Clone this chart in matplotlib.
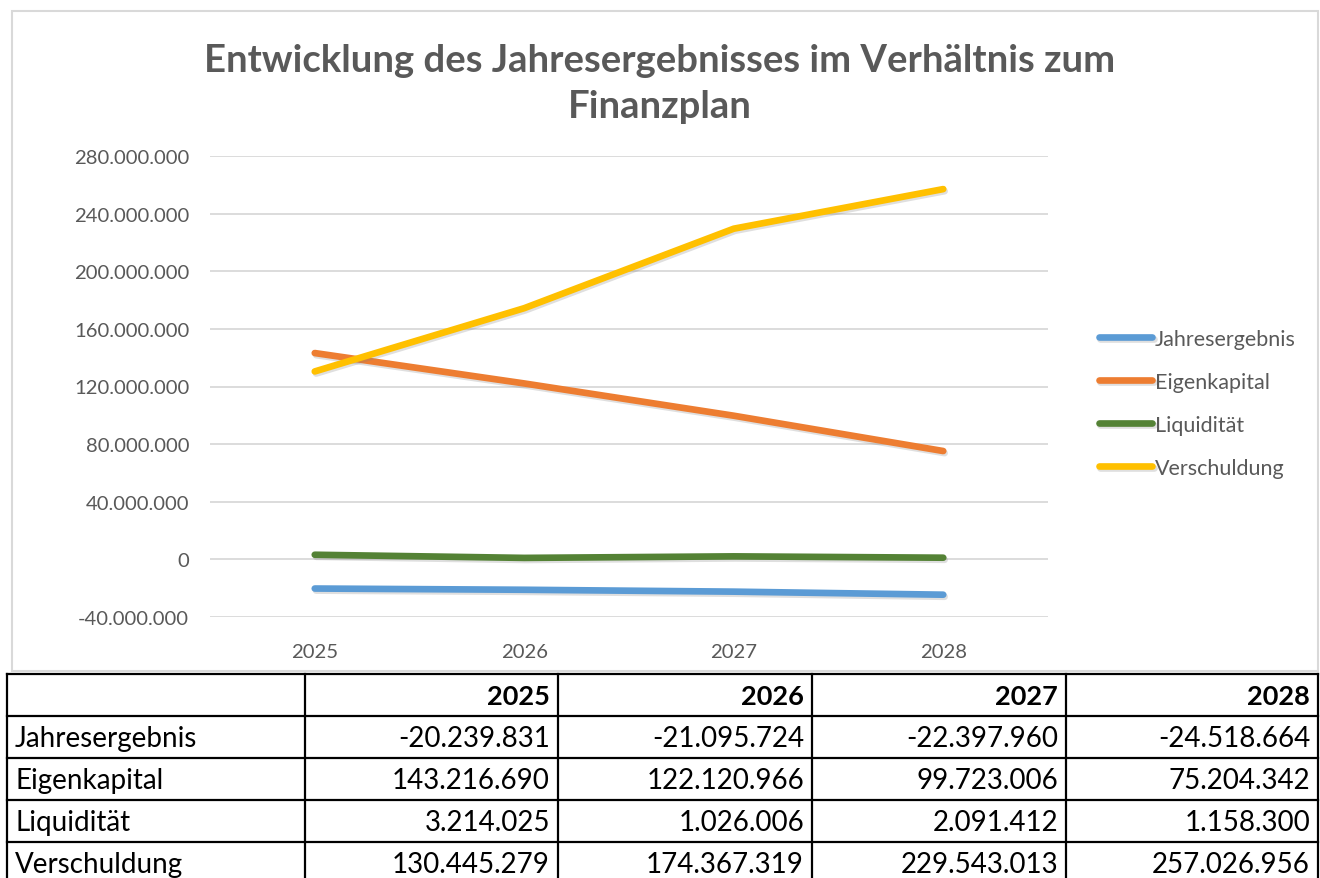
import matplotlib
matplotlib.use("Agg")
import matplotlib.pyplot as plt
from matplotlib.patches import Rectangle
import matplotlib.patheffects as pe
from matplotlib.ticker import FuncFormatter

# --- data (from the table below the chart) ---
YEARS = ["2025", "2026", "2027", "2028"]
SERIES = ["Jahresergebnis", "Eigenkapital", "Liquidität", "Verschuldung"]
JAHRESERGEBNIS = [-20239831, -21095724, -22397960, -24518664]
EIGENKAPITAL = [143216690, 122120966, 99723006, 75204342]
LIQUIDITAET = [3214025, 1026006, 2091412, 1158300]
VERSCHULDUNG = [130445279, 174367319, 229543013, 257026956]
VALUES = [JAHRESERGEBNIS, EIGENKAPITAL, LIQUIDITAET, VERSCHULDUNG]
COLORS = ["#5B9BD5", "#ED7D31", "#548235", "#FFC000"]
TITLE = "Entwicklung des Jahresergebnisses im Verhältnis zum\nFinanzplan"

W, H = 1320, 879
FONT = ["Lato", "DejaVu Sans"]
GRAY = "#595959"


def px(x0, y0, x1, y1):
    # pixel box -> figure fraction [left, bottom, width, height]
    return [x0 / W, 1 - y1 / H, (x1 - x0) / W, (y1 - y0) / H]


def de_num(v, _=None):
    return f"{int(round(v)):,}".replace(",", ".")


plt.rcParams['font.family'] = FONT

fig = plt.figure(figsize=(W / 100, H / 100), dpi=100)

# chart frame
fig.patches.append(Rectangle((12 / W, 1 - 672 / H), 1306 / W, 660 / H,
                             transform=fig.transFigure, fill=False,
                             edgecolor="#d9d9d9", lw=1.5))

fig.text(660 / W, 1 - 84 / H, TITLE, ha="center", va="center",
         fontsize=27.5, fontweight="bold", color=GRAY, linespacing=1.42)

# --- line chart ---
ax = fig.add_axes(px(210, 157, 1048, 618))
x = range(len(YEARS))
shadow = [pe.SimpleLineShadow(offset=(1, -1.5), alpha=0.25, shadow_color="gray"),
          pe.Normal()]
for name, vals, col in zip(SERIES, VALUES, COLORS):
    ax.plot(x, vals, color=col, lw=4.8, label=name,
            solid_capstyle="round", path_effects=shadow)

ax.set_xlim(-0.5, len(YEARS) - 0.5)
ax.set_ylim(-40e6, 280e6)
ax.set_yticks(range(-40000000, 280000001, 40000000))
ax.yaxis.set_major_formatter(FuncFormatter(de_num))
ax.set_xticks(list(x))
ax.set_xticklabels(YEARS)
ax.tick_params(length=0, labelsize=14.6, labelcolor=GRAY)
ax.tick_params(axis="y", pad=15)
ax.tick_params(axis="x", pad=19)
ax.grid(axis="y", color="#d9d9d9", lw=1.3)
ax.set_axisbelow(True)
for s in ax.spines.values():
    s.set_visible(False)

leg = ax.legend(loc="upper left", bbox_to_anchor=(1090 / W, 1 - 321 / H),
                bbox_transform=fig.transFigure, frameon=False,
                fontsize=15.5, handlelength=2.5, handletextpad=0.1,
                labelspacing=1.07, borderaxespad=0)
for t in leg.get_texts():
    t.set_color(GRAY)

# --- data table ---
col_edges = [7, 305, 558, 812, 1066, 1318]
row_h = 42
top = 675
n_rows = len(SERIES) + 1
tax = fig.add_axes(px(col_edges[0], top, col_edges[-1], top + n_rows * row_h))
tax.set_xlim(col_edges[0], col_edges[-1])
tax.set_ylim(top + n_rows * row_h, top)
tax.axis("off")

for xe in col_edges:
    tax.plot([xe, xe], [top, top + n_rows * row_h], color="black", lw=1.6,
             clip_on=False)
for r in range(n_rows + 1):
    y = top + r * row_h
    tax.plot([col_edges[0], col_edges[-1]], [y, y], color="black", lw=1.6,
             clip_on=False)

for j, yr in enumerate(YEARS):
    tax.text(col_edges[j + 2] - 8, top + row_h / 2 + 1, yr, ha="right",
             va="center", fontsize=19.5, fontweight="bold", color="black")
for i, (name, vals) in enumerate(zip(SERIES, VALUES)):
    yc = top + (i + 1) * row_h + row_h / 2 + 1
    tax.text(col_edges[0] + 8, yc, name, ha="left", va="center",
             fontsize=20, color="black")
    for j, v in enumerate(vals):
        tax.text(col_edges[j + 2] - 8, yc, de_num(v), ha="right",
                 va="center", fontsize=20, color="black")

fig.savefig("out.png", dpi=100)
